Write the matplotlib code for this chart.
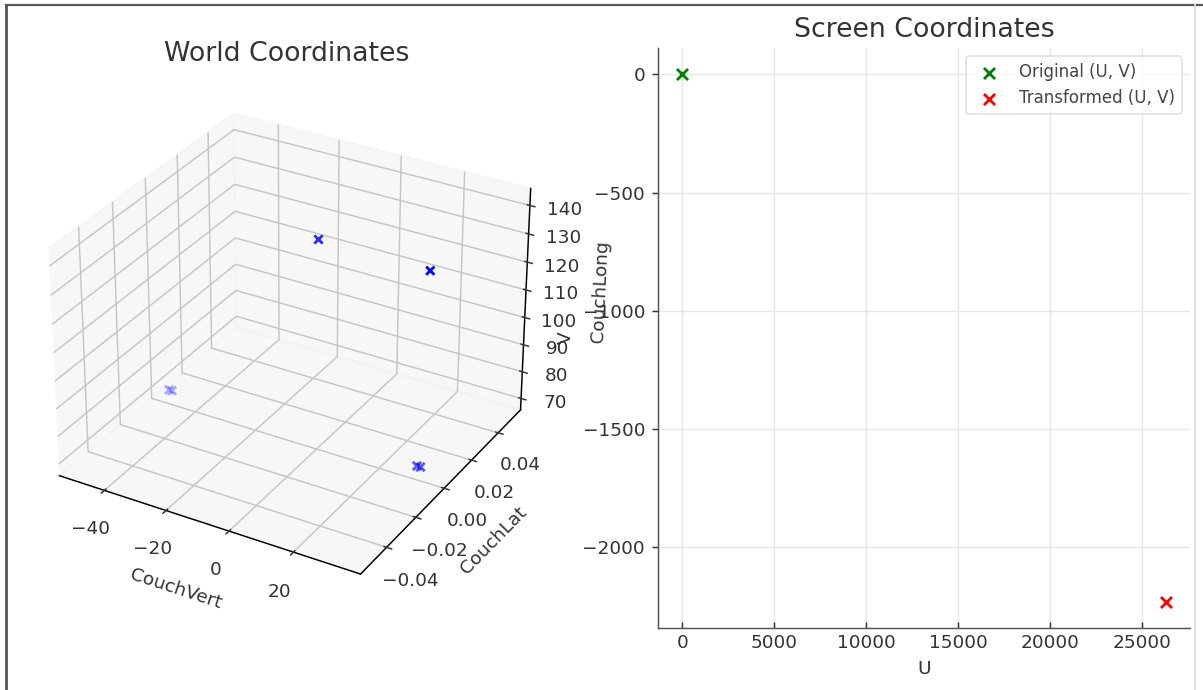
import numpy as np
import matplotlib
matplotlib.use("Agg")
import matplotlib.pyplot as plt
from matplotlib.lines import Line2D

# ---- data ----
couch_vert = [0.3, 34.3, -48.8, -47.8, 31.8, 32.9]
couch_lat = [0.0, 0.0, 0.0, 0.0, 0.0, 0.0]
couch_long = [140.8, 140.5, 71.0, 71.0, 70.8, 70.8]
vert_ticks = [-40, -20, 0, 20]

orig_u = [0.0]
orig_v = [0.0]
trans_u = [26300.0]
trans_v = [-2230.0]

TXT = "#333333"
DPI = 133
fig = plt.figure(figsize=(1203 / DPI, 690 / DPI), dpi=DPI)

# ---- left: 3D world coordinates ----
ax1 = fig.add_axes([0.0083, 0.119, 0.4605, 0.777], projection="3d")
ax1.scatter(couch_vert, couch_lat, couch_long, c="blue", marker="x", s=20)
ax1.set_xticks(vert_ticks)
ax1.set_xlabel("CouchVert", fontsize=10, color=TXT)
ax1.set_ylabel("CouchLat", fontsize=10, color=TXT)
ax1.set_zlabel("CouchLong", fontsize=10, color=TXT)
ax1.set_title("World Coordinates", fontsize=14.5, color=TXT)
ax1.tick_params(labelsize=10, colors=TXT)
for axis in (ax1.xaxis, ax1.yaxis, ax1.zaxis):
    axis._axinfo["grid"]["color"] = "#c6c6c6"
    axis._axinfo["grid"]["linewidth"] = 0.8
    axis.set_pane_color((0.95, 0.95, 0.95, 0.6))

# ---- right: 2D screen coordinates ----
ax2 = fig.add_axes([658 / 1203, 62 / 690, 532 / 1203, 580 / 690])
ax2.scatter(orig_u, orig_v, c="green", marker="x", s=36, label="Original (U, V)")
ax2.scatter(trans_u, trans_v, c="red", marker="x", s=36, label="Transformed (U, V)")
ax2.set_title("Screen Coordinates", fontsize=14.5, color=TXT)
ax2.set_xlabel("U", fontsize=10, color=TXT)
ax2.set_ylabel("V", fontsize=10, color=TXT)
ax2.grid(True, color="#e6e6e6", linewidth=0.8)
ax2.set_axisbelow(True)
for s in ("top", "right"):
    ax2.spines[s].set_visible(False)
for s in ("left", "bottom"):
    ax2.spines[s].set_color("#555555")
ax2.tick_params(axis="both", labelsize=10, colors=TXT)
ax2.tick_params(axis="x", direction="in")
ax2.tick_params(axis="y", direction="out")
leg = ax2.legend(loc="upper right", fontsize=9, frameon=True)
leg.get_frame().set_edgecolor("#dddddd")
for t in leg.get_texts():
    t.set_color("#444444")

# ---- screenshot frame ----
fig.add_artist(Line2D([6 / 1203, 6 / 1203], [0, 1 - 5 / 690], color="#555555", lw=1.5))
fig.add_artist(Line2D([6 / 1203, 1], [1 - 5 / 690, 1 - 5 / 690], color="#555555", lw=1.2))
fig.add_artist(Line2D([1195 / 1203, 1195 / 1203], [0, 1 - 5 / 690], color="#dddddd", lw=1.0))

fig.savefig("out.png", dpi=DPI)
